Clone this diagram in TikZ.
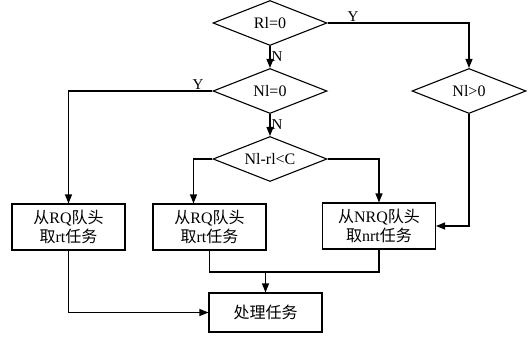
\documentclass[tikz,border=0pt]{standalone}
\usepackage{fontspec}
\setmainfont{Liberation Serif}
\newfontfamily\cjk{Noto Sans CJK SC}
\usetikzlibrary{arrows.meta,shapes.geometric}
\newcommand{\zh}[1]{{\cjk #1}}

\begin{document}
\begin{tikzpicture}[
x=1pt, y=-1pt,
font=\fontsize{16}{19}\selectfont,
cond/.style={draw, diamond, aspect=2.5, inner sep=0pt, minimum width=114pt, minimum height=45pt, line width=1.1pt},
task/.style={draw, align=center, inner sep=0pt, minimum width=113pt, minimum height=46pt, line width=1.1pt},
line/.style={line width=1.1pt},
arr/.style={line, -{Triangle[length=9pt,width=7pt]}},
lab/.style={font=\fontsize{15}{18}\selectfont, inner sep=1pt}
]
\useasboundingbox (0,0) rectangle (529,337);
\node[cond] (rl) at (270,23) {Rl=0};
\node[cond] (nl) at (270,91) {Nl=0};
\node[cond] (diff) at (270,159) {Nl-rl\textless C};
\node[cond] (nlpos) at (469,91) {Nl\textgreater 0};
\node[task] (rt1) at (68.5,227) {\zh{从}RQ\zh{队头}\\\zh{取}rt\zh{任务}};
\node[task] (rt2) at (209.5,227) {\zh{从}RQ\zh{队头}\\\zh{取}rt\zh{任务}};
\node[task] (nrt) at (379,226) {\zh{从}NRQ\zh{队头}\\\zh{取}nrt\zh{任务}};
\node[task, minimum height=39pt] (proc) at (265.5,312.5) {\zh{处理任务}};
\coordinate (join) at (265.5,272);
\draw[arr] (rl.east) -| node[lab, above, pos=0.09]{Y} (nlpos.north);
\draw[arr] (rl) -- node[lab, right]{N} (nl);
\draw[arr] (nl.west) -| node[lab, above, pos=0.05]{Y} (rt1.north);
\draw[arr] (nl) -- node[lab, right]{N} (diff);
\draw[arr] (diff.west) -| ([xshift=-16pt]rt2.north);
\draw[arr] (diff.east) -| (nrt.north);
\draw[arr] (nlpos.south) |- (nrt.east);
\draw[line] (rt2.south) |- (join) -| (nrt.south);
\draw[arr] (join) -- (proc);
\draw[arr] (rt1.south) |- (proc.west);
\end{tikzpicture}
\end{document}
